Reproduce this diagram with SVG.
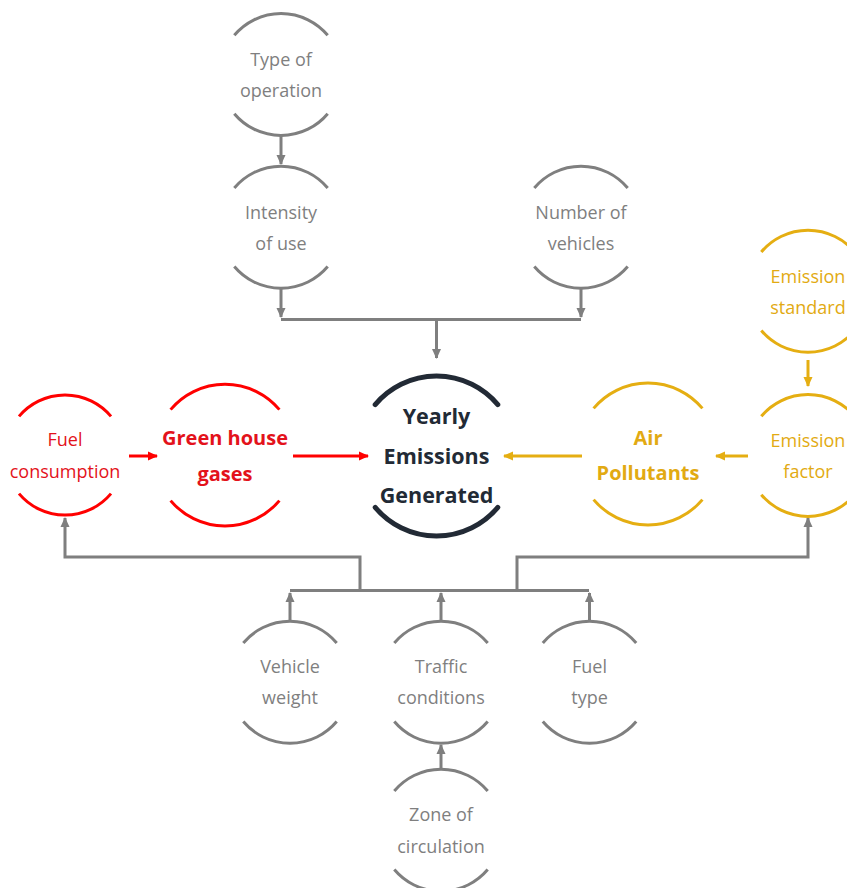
<svg xmlns="http://www.w3.org/2000/svg" width="847" height="888" viewBox="0 0 847 888">
<style>
.t{font-family:"Open Sans","Liberation Sans",sans-serif;font-size:18px;text-anchor:middle}
.b{font-family:"Open Sans","Liberation Sans",sans-serif;font-weight:bold;text-anchor:middle}
.g{fill:#7f7f7f}
.gs{fill:none;stroke:#7f7f7f;stroke-width:3}
.rs{fill:none;stroke:#ff0000;stroke-width:3}
.os{fill:none;stroke:#e5ae12;stroke-width:3}
.ds{fill:none;stroke:#222a35;stroke-width:5;stroke-linecap:round}
.rt{fill:#e3121b}
.ot{fill:#e2aa12}
</style>
<defs>
<marker id="ag" markerUnits="userSpaceOnUse" markerWidth="10" markerHeight="10" refX="9" refY="5" orient="auto"><path d="M0,0.5 L10,5 L0,9.5 Z" fill="#7f7f7f"/></marker>
<marker id="ar" markerUnits="userSpaceOnUse" markerWidth="10" markerHeight="10" refX="9" refY="5" orient="auto"><path d="M0,0.5 L10,5 L0,9.5 Z" fill="#ff0000"/></marker>
<marker id="ao" markerUnits="userSpaceOnUse" markerWidth="10" markerHeight="10" refX="9" refY="5" orient="auto"><path d="M0,0.5 L10,5 L0,9.5 Z" fill="#e5ae12"/></marker>
</defs>

<g id="connectors">
<path class="gs" d="M281,136 V164" marker-end="url(#ag)"/>
<path class="gs" d="M281,288 V317" marker-end="url(#ag)"/>
<path class="gs" d="M581,288 V317" marker-end="url(#ag)"/>
<path class="gs" d="M281,319.5 H581"/>
<path class="gs" d="M436.5,319.5 V358" marker-end="url(#ag)"/>
<path class="rs" d="M129,456 H157" marker-end="url(#ar)"/>
<path class="rs" d="M293,456 H368" marker-end="url(#ar)"/>
<path class="os" d="M582,456 H504" marker-end="url(#ao)"/>
<path class="os" d="M748,456 H716" marker-end="url(#ao)"/>
<path class="os" d="M808,360 V386" marker-end="url(#ao)"/>
<path class="gs" d="M290,590.5 H589"/>
<path class="gs" d="M360,590.5 V557 H65 V518" marker-end="url(#ag)"/>
<path class="gs" d="M517,590.5 V557 H808 V518" marker-end="url(#ag)"/>
<path class="gs" d="M290,620 V593" marker-end="url(#ag)"/>
<path class="gs" d="M441,620 V593" marker-end="url(#ag)"/>
<path class="gs" d="M589.5,620 V593" marker-end="url(#ag)"/>
<path class="gs" d="M441,769 V745" marker-end="url(#ag)"/>
</g>

<g id="type-of-operation">
<path class="gs" d="M234.3,35.3 A61,61 0 0 1 327.7,35.3 M234.3,113.7 A61,61 0 0 0 327.7,113.7"/>
<text class="t g" x="281" y="65.5">Type of</text>
<text class="t g" x="281" y="96.5">operation</text>
</g>

<g id="intensity-of-use">
<path class="gs" d="M234.3,188 A61,61 0 0 1 327.7,188 M234.3,266.5 A61,61 0 0 0 327.7,266.5"/>
<text class="t g" x="281" y="219">Intensity</text>
<text class="t g" x="281" y="249.5">of use</text>
</g>

<g id="number-of-vehicles">
<path class="gs" d="M534.3,188 A61,61 0 0 1 627.7,188 M534.3,266.5 A61,61 0 0 0 627.7,266.5"/>
<text class="t g" x="581" y="219">Number of</text>
<text class="t g" x="581" y="250">vehicles</text>
</g>

<g id="yearly-emissions">
<path class="ds" d="M375.2,404.6 A80,80 0 0 1 497.8,404.6 M375.2,507.4 A80,80 0 0 0 497.8,507.4"/>
<text class="b" x="436.5" y="423.5" font-size="21.5" fill="#222a35">Yearly</text>
<text class="b" x="436.5" y="463.5" font-size="21.5" fill="#222a35">Emissions</text>
<text class="b" x="436.5" y="503" font-size="21.5" fill="#222a35">Generated</text>
</g>

<g id="fuel-consumption">
<path class="rs" d="M19,416.4 A60,60 0 0 1 111,416.4 M19,493.6 A60,60 0 0 0 111,493.6"/>
<text class="t rt" x="65" y="446">Fuel</text>
<text class="t rt" x="65" y="477.5">consumption</text>
</g>

<g id="green-house-gases">
<path class="rs" d="M170.6,409.6 A71,71 0 0 1 279.4,409.6 M170.6,500.6 A71,71 0 0 0 279.4,500.6"/>
<text class="b rt" x="225" y="445" font-size="20">Green house</text>
<text class="b rt" x="225" y="481" font-size="20">gases</text>
</g>

<g id="air-pollutants">
<path class="os" d="M593.6,408.4 A71,71 0 0 1 702.4,408.4 M593.6,499.6 A71,71 0 0 0 702.4,499.6"/>
<text class="b ot" x="648" y="445" font-size="20">Air</text>
<text class="b ot" x="648" y="480" font-size="20">Pollutants</text>
</g>

<g id="emission-standard">
<path class="os" d="M761.3,252 A61,61 0 0 1 854.7,252 M761.3,330.5 A61,61 0 0 0 854.7,330.5"/>
<text class="t ot" x="808" y="282.5">Emission</text>
<text class="t ot" x="808" y="314">standard</text>
</g>

<g id="emission-factor">
<path class="os" d="M761.3,416.3 A61,61 0 0 1 854.7,416.3 M761.3,494.7 A61,61 0 0 0 854.7,494.7"/>
<text class="t ot" x="808" y="446.5">Emission</text>
<text class="t ot" x="808" y="478">factor</text>
</g>

<g id="vehicle-weight">
<path class="gs" d="M243.3,643 A61,61 0 0 1 336.7,643 M243.3,721.5 A61,61 0 0 0 336.7,721.5"/>
<text class="t g" x="290" y="672.5">Vehicle</text>
<text class="t g" x="290" y="704">weight</text>
</g>

<g id="traffic-conditions">
<path class="gs" d="M394.3,643 A61,61 0 0 1 487.7,643 M394.3,721.5 A61,61 0 0 0 487.7,721.5"/>
<text class="t g" x="441" y="672.5">Traffic</text>
<text class="t g" x="441" y="704">conditions</text>
</g>

<g id="fuel-type">
<path class="gs" d="M542.8,643 A61,61 0 0 1 636.2,643 M542.8,721.5 A61,61 0 0 0 636.2,721.5"/>
<text class="t g" x="589.5" y="672.5">Fuel</text>
<text class="t g" x="589.5" y="704">type</text>
</g>

<g id="zone-of-circulation">
<path class="gs" d="M394.3,791 A61,61 0 0 1 487.7,791 M394.3,869.5 A61,61 0 0 0 487.7,869.5"/>
<text class="t g" x="441" y="820.5">Zone of</text>
<text class="t g" x="441" y="852.5">circulation</text>
</g>
</svg>
